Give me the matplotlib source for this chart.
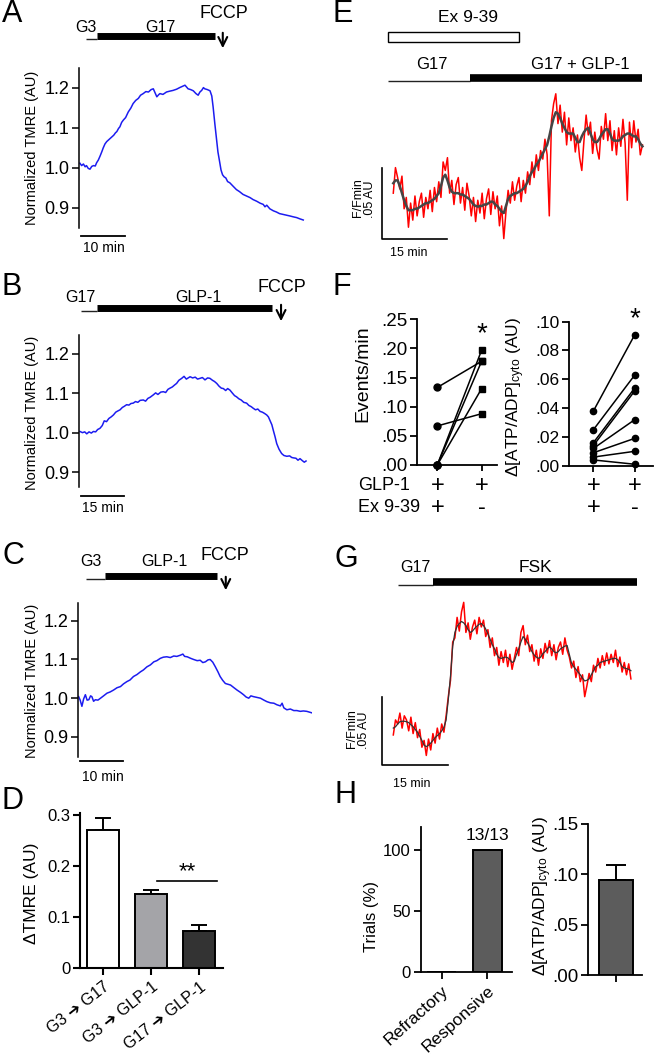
import matplotlib
matplotlib.use("Agg")
import matplotlib.pyplot as plt
import numpy as np
from matplotlib.patches import Rectangle
from matplotlib.transforms import blended_transform_factory

plt.rcParams['font.family'] = ['Liberation Sans', 'DejaVu Sans']
plt.rcParams['mathtext.fontset'] = 'custom'
plt.rcParams['mathtext.rm'] = 'Liberation Sans'
plt.rcParams['mathtext.it'] = 'Liberation Sans:italic'

# ---------------------------------------------------------------- data
# A: G3 -> G17 -> FCCP, normalized TMRE (time in min)
A_T = [0.2, 0.6, 1.0, 1.4, 1.7, 2.1, 2.5, 2.9, 3.3, 3.7, 4.0, 4.4, 4.8, 5.2, 5.5, 5.9,
       6.3, 6.8, 7.4, 7.9, 8.3, 8.6, 9.0, 9.3, 9.7, 10.1, 10.6, 11.2, 11.8, 12.3, 12.9,
       13.5, 14.0, 14.6, 15.2, 15.8, 16.4, 16.9, 17.3, 17.7, 18.1, 18.4, 19.1, 19.9,
       20.6, 21.4, 22.2, 22.9, 23.5, 24.1, 24.5, 24.8, 25.4, 26.0, 26.6, 27.1, 27.5,
       27.9, 28.3, 28.6, 29.2, 29.8, 30.2, 30.5, 30.9, 31.3, 31.6, 31.9, 32.3, 32.65,
       33.0, 33.4, 33.8, 34.3, 35.0, 35.8, 36.5, 37.3, 38.1, 38.9, 39.6, 40.4, 41.2,
       41.9, 42.3, 42.7, 43.4, 44.2, 44.9, 45.6, 46.4, 47.2, 48.0, 48.7, 49.5, 50.2, 51.0]
A_V = [1.012, 1.006, 1.010, 1.003, 1.006, 0.999, 0.997, 1.004, 1.006, 1.005, 1.013,
       1.020, 1.030, 1.041, 1.050, 1.060, 1.066, 1.071, 1.077, 1.082, 1.088, 1.091,
       1.099, 1.103, 1.114, 1.120, 1.126, 1.140, 1.150, 1.161, 1.169, 1.174, 1.182,
       1.186, 1.191, 1.190, 1.196, 1.198, 1.188, 1.178, 1.183, 1.186, 1.184, 1.190,
       1.192, 1.194, 1.197, 1.201, 1.204, 1.207, 1.202, 1.198, 1.196, 1.193, 1.186,
       1.182, 1.190, 1.194, 1.201, 1.198, 1.196, 1.193, 1.180, 1.153, 1.110, 1.070,
       1.040, 1.021, 0.995, 0.983, 0.978, 0.975, 0.966, 0.963, 0.955, 0.946, 0.941,
       0.934, 0.930, 0.926, 0.921, 0.917, 0.912, 0.909, 0.903, 0.907, 0.898, 0.893,
       0.890, 0.886, 0.884, 0.882, 0.880, 0.878, 0.876, 0.873, 0.870]
A_BASE, A_DRUG, A_FCCP, A_SCALE = (1.6, 4.1), (4.1, 30.9), 32.7, (0.45, 10)

# B: G17 -> GLP-1 -> FCCP
B_T = [0.35, 1.2, 2.0, 2.7, 3.5, 4.3, 5.0, 5.8, 6.5, 7.3, 8.1, 8.8, 9.6, 10.4, 11.2,
       12.0, 12.8, 13.5, 14.3, 15.1, 15.8, 16.6, 17.4, 18.1, 18.9, 19.7, 20.5, 21.3,
       22.4, 23.2, 24.0, 24.8, 25.9, 26.7, 27.5, 28.5, 29.4, 30.2, 31.0, 31.7, 32.5,
       33.3, 34.0, 34.8, 35.8, 36.6, 37.4, 38.7, 39.6, 40.5, 41.3, 42.2, 43.0, 43.9,
       44.8, 45.6, 46.5, 47.2, 48.0, 48.8, 49.6, 50.3, 51.1, 51.8, 52.6, 53.5, 54.2,
       54.9, 55.7, 56.5, 57.4, 58.4, 59.2, 60.0, 60.7, 61.5, 62.3, 63.1, 63.9, 64.6,
       65.4, 66.0, 66.6, 67.2, 67.7, 68.3, 68.9, 69.7, 70.6, 71.4, 72.4, 73.4, 74.1,
       74.7, 75.6, 76.3, 77.0, 77.8, 78.5, 79.1]
B_V = [1.003, 1.000, 1.002, 0.997, 1.002, 0.999, 1.003, 1.002, 1.008, 1.011, 1.018,
       1.030, 1.028, 1.036, 1.040, 1.045, 1.052, 1.055, 1.058, 1.064, 1.067, 1.071,
       1.070, 1.074, 1.075, 1.079, 1.077, 1.082, 1.083, 1.080, 1.087, 1.090, 1.096,
       1.101, 1.097, 1.103, 1.104, 1.102, 1.110, 1.113, 1.116, 1.121, 1.125, 1.133,
       1.138, 1.143, 1.136, 1.142, 1.139, 1.141, 1.136, 1.138, 1.140, 1.134, 1.139,
       1.138, 1.133, 1.130, 1.125, 1.118, 1.113, 1.112, 1.107, 1.112, 1.108, 1.100,
       1.094, 1.091, 1.086, 1.083, 1.077, 1.075, 1.069, 1.066, 1.062, 1.058, 1.060,
       1.054, 1.052, 1.049, 1.045, 1.040, 1.030, 1.020, 1.006, 0.990, 0.972, 0.958,
       0.947, 0.942, 0.940, 0.941, 0.937, 0.936, 0.935, 0.930, 0.934, 0.929, 0.925, 0.928]
B_BASE, B_DRUG, B_FCCP, B_SCALE = (0.7, 6.3), (6.3, 67.2), 70.4, (0.7, 15)

# C: G3 -> GLP-1 -> FCCP
C_T = [0.15, 0.5, 0.9, 1.3, 1.7, 2.1, 2.5, 2.9, 3.2, 3.6, 4.0, 4.6, 5.2, 5.9, 6.7, 7.4,
       8.2, 9.0, 9.8, 10.5, 11.3, 12.0, 12.8, 13.6, 14.4, 15.1, 15.9, 16.7, 17.5, 18.2,
       19.0, 19.7, 20.5, 21.3, 22.1, 22.8, 23.6, 24.2, 24.6, 25.2, 26.0, 26.7, 27.5,
       28.2, 28.8, 29.4, 30.0, 30.5, 31.1, 31.7, 32.3, 32.8, 33.4, 34.0, 34.6, 35.2,
       36.0, 36.7, 37.5, 38.2, 38.8, 39.4, 39.9, 40.5, 41.3, 42.1, 42.9, 43.6, 44.4,
       45.2, 45.9, 46.7, 47.1, 47.5, 48.2, 49.0, 49.8, 50.5, 51.3, 52.0, 52.8, 53.4, 54.0]
C_V = [1.004, 0.995, 0.979, 0.998, 1.009, 0.995, 0.996, 1.006, 1.004, 0.992, 0.996,
       0.995, 1.000, 1.006, 1.013, 1.016, 1.021, 1.027, 1.030, 1.037, 1.043, 1.047,
       1.056, 1.061, 1.068, 1.073, 1.081, 1.086, 1.094, 1.097, 1.103, 1.106, 1.107,
       1.105, 1.109, 1.108, 1.111, 1.114, 1.108, 1.107, 1.103, 1.100, 1.097, 1.098,
       1.092, 1.094, 1.099, 1.100, 1.093, 1.081, 1.068, 1.056, 1.046, 1.038, 1.036,
       1.034, 1.027, 1.021, 1.015, 1.009, 1.003, 1.000, 1.006, 1.004, 1.002, 1.000,
       0.995, 0.991, 0.988, 0.987, 0.983, 0.980, 0.987, 0.975, 0.970, 0.972, 0.968,
       0.968, 0.966, 0.967, 0.966, 0.964, 0.962]
C_BASE, C_DRUG, C_FCCP, C_SCALE = (1.85, 6.2), (6.2, 32.0), 34.1, (0.46, 10)

TMRE_TICKS = [0.9, 1.0, 1.1, 1.2]

# D: delta TMRE
D_LABELS = ['G3 ➔ G17', 'G3 ➔ GLP-1', 'G17 ➔ GLP-1']
D_MEAN = [0.270, 0.144, 0.073]
D_SEM = [0.023, 0.008, 0.011]
D_COLORS = ['white', '#a4a4a8', '#333333']

# E: PercevalHR trace (F/Fmin, in units of 0.001 AU), sampled every 0.5 min
E_DT = 0.5
E_RED = [33, 51, 44, 36, 45, 22, 30, 9, 26, 14,
         31, 17, 27, 33, 16, 30, 22, 35, 20, 37,
         27, 41, 30, 55, 49, 58, 33, 42, 25, 39,
         44, 26, 37, 21, 40, 31, 17, 30, 13, 28,
         19, 33, 15, 29, 36, 18, 34, 22, 31, 10,
         24, 1, 20, 35, 26, 41, 28, 38, 44, 27,
         42, 33, 48, 39, 55, 44, 60, 49, 63, 57,
         71, 60, 17, 84, 96, 103, 82, 95, 76, 90,
         67, 86, 70, 79, 62, 74, 58, 49, 70, 88,
         74, 83, 61, 76, 64, 57, 80, 71, 89, 70,
         84, 63, 77, 60, 79, 66, 85, 68, 28, 83,
         65, 84, 69, 78, 60, 67]
E_SMOOTH = [40, 42, 42, 38, 33, 28, 24, 21, 21, 21,
            22, 22, 23, 24, 25, 26, 26, 27, 28, 29,
            31, 33, 38, 44, 46, 42, 37, 34, 33, 33,
            33, 32, 32, 31, 30, 29, 27, 25, 24, 23.5,
            24, 24, 25, 25, 26, 27, 27, 25, 24, 22,
            20, 19, 24, 29, 31, 32, 33, 33, 34, 35,
            36, 38, 41, 45, 48, 50, 53, 55, 58, 61,
            64, 67, 73, 80, 86, 90, 89, 86, 82, 79,
            76, 75, 75, 75, 72, 69, 69, 73, 76, 78,
            79, 75, 71, 69, 69, 71, 74, 76, 78, 78,
            75, 71, 70, 70, 70, 71, 73, 74, 75, 75,
            74, 73, 73, 71, 68, 66]
E_EX939 = (-1.2, 29.0)
E_G17 = (-1.2, 17.7)
E_GLP1 = (17.7, 57.4)
E_SCALE = (-2.6, 1, 15, 50)   # t0, y0, minutes, mAU

# F: paired data
F_EV_BEFORE = [0.133, 0.067, 0.0, 0.0, 0.0]
F_EV_AFTER = [0.178, 0.088, 0.197, 0.178, 0.131]
F_ATP_BEFORE = [0.038, 0.025, 0.016, 0.014, 0.012, 0.009, 0.006, 0.004]
F_ATP_AFTER = [0.091, 0.063, 0.054, 0.052, 0.032, 0.019, 0.010, 0.001]
F_GLP1 = ['+', '+']
F_EX939 = ['+', '-']

# G: forskolin trace (0.001 AU), every 0.5 min
G_DT = 0.5
G_RED = [22, 33, 30, 38, 27, 36, 33, 25, 35, 23,
         31, 20, 26, 13, 18, 7, 19, 11, 23, 16,
         27, 19, 30, 24, 36, 50, 62, 90, 93, 108,
         98, 112, 119, 97, 104, 92, 101, 106, 96, 108,
         101, 106, 94, 99, 86, 93, 80, 86, 73, 83,
         75, 84, 72, 81, 70, 78, 86, 80, 97, 102,
         88, 95, 83, 88, 76, 84, 73, 85, 78, 89,
         82, 91, 80, 88, 77, 86, 90, 81, 93, 84,
         79, 71, 76, 64, 72, 61, 66, 50, 58, 67,
         61, 73, 68, 78, 71, 80, 73, 82, 74, 81,
         75, 84, 72, 79, 68, 75, 66, 74, 63]
G_SMOOTH = [27, 28, 30, 31.7, 32, 32, 31.7, 31, 29.5, 28,
            26, 24, 21, 18, 14.5, 13.4, 14.5, 16, 18, 20,
            21.5, 23, 25, 27.5, 33, 48, 65, 87, 97, 101.5,
            103.5, 105, 104, 102, 99, 97, 98, 100, 101.5, 103,
            103.5, 102, 99.5, 96, 92, 88, 85, 81, 78.5, 78,
            78.5, 79, 78.5, 77, 75, 76, 81, 85, 90, 94,
            92, 89.5, 86.5, 83, 80.5, 79, 78, 79, 81.5, 83,
            85, 86.5, 85, 83, 82, 83, 85, 86, 87, 87.5,
            81, 74.5, 72, 70, 68, 66, 63.5, 61.5, 62, 63,
            66, 69, 72, 73, 75, 75.5, 76, 76.5, 77, 77.5,
            78, 78, 77, 75, 72, 71, 70.5, 70, 69]
G_G17 = (1.0, 9.1)
G_FSK = (9.1, 55.3)
G_SCALE = (-2.5, 0, 15, 50)

# H
H_LABELS = ['Refractory', 'Responsive']
H_PCT = [0, 100]
H_ATP_MEAN = [0.094]
H_ATP_SEM = [0.015]

BLUE = '#1c1cf0'
ATP_LABEL = 'Δ[ATP/ADP]$_{\\mathrm{cyto}}$ (AU)'

# ---------------------------------------------------------------- layout helpers
W, H = 656, 1057
fig = plt.figure(figsize=(W / 100, H / 100), dpi=100)


def px_axes(x0, y0, x1, y1):
    return fig.add_axes([x0 / W, 1 - y1 / H, (x1 - x0) / W, (y1 - y0) / H])


def fy(py):
    return 1 - py / H


def label(px, py, s, **kw):
    kw.setdefault('ha', 'center')
    kw.setdefault('va', 'center')
    fig.text(px / W, fy(py), s, **kw)


def style_axes(ax, lw=1.3, size=12):
    for s in ('top', 'right'):
        ax.spines[s].set_visible(False)
    for s in ('left', 'bottom'):
        ax.spines[s].set_linewidth(lw)
    ax.tick_params(direction='out', length=5, width=lw, labelsize=size, pad=2)


def protocol(ax, base, drug, py_thin, py_thick, thick=5.0):
    tr = blended_transform_factory(ax.transData, fig.transFigure)
    ax.plot(base, [fy(py_thin)] * 2, transform=tr, color='#222222', lw=1.0,
            clip_on=False, solid_capstyle='butt')
    ax.plot(drug, [fy(py_thick)] * 2, transform=tr, color='k', lw=thick,
            clip_on=False, solid_capstyle='butt')
    return tr


def fccp_arrow(ax, tr, t, py0, py1):
    ax.annotate('', xy=(t, fy(py1)), xycoords=tr, xytext=(t, fy(py0)), textcoords=tr,
                arrowprops=dict(arrowstyle='->', lw=1.5, color='k', mutation_scale=16))


def tmre_panel(box, t, v, xmax, ylim, scale, scale_py):
    ax = px_axes(*box)
    ax.plot(t, v, color=BLUE, lw=1.1)
    ax.set_xlim(0, xmax)
    ax.set_ylim(*ylim)
    style_axes(ax, lw=1.1, size=13)
    ax.spines['bottom'].set_visible(False)
    ax.set_xticks([])
    ax.set_yticks(TMRE_TICKS)
    ax.set_yticklabels([f'{x:.1f}' for x in TMRE_TICKS])
    tr = blended_transform_factory(ax.transData, fig.transFigure)
    ax.plot([scale[0], scale[0] + scale[1]], [fy(scale_py)] * 2, transform=tr,
            color='k', lw=1.3, clip_on=False)
    return ax


# ---------------------------------------------------------------- A
axA = tmre_panel((79, 68, 305, 228), A_T, A_V, 51.4, (0.85, 1.25), A_SCALE, 236)
trA = protocol(axA, A_BASE, A_DRUG, 39, 35.8)
fccp_arrow(axA, trA, A_FCCP, 30, 51)
label(86, 28, 'G3', fontsize=11.5)
label(160, 28, 'G17', fontsize=11.5)
label(224, 14, 'FCCP', fontsize=13)
label(103.5, 248, '10 min', fontsize=10)
label(31.7, 148, 'Normalized TMRE (AU)', fontsize=10.5, rotation=90)

# ---------------------------------------------------------------- B
axB = tmre_panel((79, 335, 308.6, 487), B_T, B_V, 80, (0.862, 1.248), B_SCALE, 496)
trB = protocol(axB, B_BASE, B_DRUG, 311, 307.5)
fccp_arrow(axB, trB, B_FCCP, 302, 324)
label(80, 297, 'G17', fontsize=11.5)
label(198, 297, 'GLP-1', fontsize=11.5)
label(282, 287, 'FCCP', fontsize=13)
label(103, 508, '15 min', fontsize=10)
label(31.7, 413, 'Normalized TMRE (AU)', fontsize=10.5, rotation=90)

# ---------------------------------------------------------------- C
axC = tmre_panel((78, 603, 312, 757), C_T, C_V, 54.0, (0.848, 1.246), C_SCALE, 761)
trC = protocol(axC, C_BASE, C_DRUG, 579, 575.5)
fccp_arrow(axC, trC, C_FCCP, 574, 593)
label(91, 562, 'G3', fontsize=11.5)
label(164, 562, 'GLP-1', fontsize=11.5)
label(225, 555, 'FCCP', fontsize=13)
label(102.5, 777, '10 min', fontsize=10)
label(31.7, 681, 'Normalized TMRE (AU)', fontsize=10.5, rotation=90)

# ---------------------------------------------------------------- D
axD = px_axes(80, 813, 222.7, 968.3)
xD = np.arange(len(D_MEAN))
axD.errorbar(xD, D_MEAN, yerr=[np.zeros(len(D_SEM)), D_SEM], fmt='none', ecolor='k',
             elinewidth=1.4, capsize=6, capthick=1.4, zorder=1)
axD.bar(xD, D_MEAN, width=0.667, color=D_COLORS, edgecolor='k', linewidth=1.4, zorder=2)
axD.set_xlim(-0.479, 2.49)
axD.set_ylim(0, 0.303)
style_axes(axD, lw=1.5, size=12)
axD.set_yticks([0, 0.1, 0.2, 0.3])
axD.set_yticklabels(['0', '0.1', '0.2', '0.3'])
axD.set_xticks(xD)
axD.set_xticklabels(D_LABELS, rotation=38, ha='right', rotation_mode='anchor', fontsize=11.5)
axD.tick_params(axis='x', pad=3)
axD.plot([1.125, 2.375], [0.171, 0.171], color='k', lw=1.2)
axD.text(1.75, 0.168, '**', ha='center', va='bottom', fontsize=16)
label(31.7, 893, 'ΔTMRE (AU)', fontsize=12.5, rotation=90)

# ---------------------------------------------------------------- E
axE = px_axes(375, 60, 650, 250)
axE.axis('off')
axE.set_xlim(-4.22, 59.24)
axE.set_ylim(-7.04, 126.8)
tE = np.arange(len(E_RED)) * E_DT
axE.plot(tE, E_RED, color='#ff0000', lw=1.1)
axE.plot(tE, E_SMOOTH, color='#454545', lw=1.8)
sx, sy, sdt, sdy = E_SCALE
axE.plot([sx, sx, sx + sdt], [sy + sdy, sy, sy], color='k', lw=1.2, clip_on=False)
trE = protocol(axE, E_G17, E_GLP1, 81, 77.5, thick=5.5)
axE.add_patch(Rectangle((E_EX939[0], fy(42)), E_EX939[1] - E_EX939[0], 10 / H,
                        transform=trE, facecolor='white', edgecolor='k', lw=1.0,
                        clip_on=False))
label(468, 18, 'Ex 9-39', fontsize=12.5)
label(432, 64, 'G17', fontsize=12)
label(580, 64, 'G17 + GLP-1', fontsize=12)
label(357.5, 198, 'F/Fmin', fontsize=9, rotation=90)
label(370, 199, '.05 AU', fontsize=9, rotation=90)
label(409, 253, '15 min', fontsize=9)

# ---------------------------------------------------------------- F
axF1 = px_axes(417.3, 319.3, 496.7, 465)
for b, a in zip(F_EV_BEFORE, F_EV_AFTER):
    axF1.plot([0, 1], [b, a], color='k', lw=1.1)
axF1.plot(np.zeros(len(F_EV_BEFORE)), F_EV_BEFORE, 'o', ms=5, color='k', clip_on=False)
axF1.plot(np.ones(len(F_EV_AFTER)), F_EV_AFTER, 's', ms=5, color='k', clip_on=False)
axF1.set_xlim(-0.45, 1.34)
axF1.set_ylim(0, 0.25)
style_axes(axF1, lw=1.3, size=13.5)
axF1.set_yticks([0, 0.05, 0.10, 0.15, 0.20, 0.25])
axF1.set_yticklabels(['.00', '.05', '.10', '.15', '.20', '.25'])
axF1.set_xticks([0, 1])
axF1.set_xticklabels([])
axF1.tick_params(axis='x', length=4)
axF1.text(1, 0.202, '*', ha='center', va='bottom', fontsize=20)
label(363, 374, 'Events/min', fontsize=14, rotation=90)

axF2 = px_axes(569, 321.7, 653, 465.7)
for b, a in zip(F_ATP_BEFORE, F_ATP_AFTER):
    axF2.plot([0, 1], [b, a], color='k', lw=1.1)
axF2.plot(np.zeros(len(F_ATP_BEFORE)), F_ATP_BEFORE, 'o', ms=4.5, color='k', clip_on=False)
axF2.plot(np.ones(len(F_ATP_AFTER)), F_ATP_AFTER, 'o', ms=4.5, color='k', clip_on=False)
axF2.set_xlim(-0.59, 1.44)
axF2.set_ylim(0, 0.10)
style_axes(axF2, lw=1.3, size=12.5)
axF2.set_yticks([0, 0.02, 0.04, 0.06, 0.08, 0.10])
axF2.set_yticklabels(['.00', '.02', '.04', '.06', '.08', '.10'])
axF2.set_xticks([0, 1])
axF2.set_xticklabels([])
axF2.tick_params(axis='x', length=4)
axF2.text(1, 0.093, '*', ha='center', va='bottom', fontsize=20)
label(516, 397, ATP_LABEL, fontsize=12.5, rotation=90)

for ax in (axF1, axF2):
    trF = blended_transform_factory(ax.transData, fig.transFigure)
    for i, s in enumerate(F_GLP1):
        ax.text(i, fy(486), s, transform=trF, ha='center', va='center', fontsize=17)
    for i, s in enumerate(F_EX939):
        ax.text(i, fy(508), s, transform=trF, ha='center', va='center', fontsize=17)
label(358, 486, 'GLP-1', fontsize=13, ha='left')
label(358, 508, 'Ex 9-39', fontsize=13, ha='left')

# ---------------------------------------------------------------- G
axG = px_axes(375, 585, 650, 780)
axG.axis('off')
axG.set_xlim(-4.16, 58.34)
axG.set_ylim(-10.97, 131.7)
tG = np.arange(len(G_RED)) * G_DT
axG.plot(tG, G_RED, color='#ff0000', lw=1.1)
axG.plot(tG, G_SMOOTH, color='#333333', lw=0.9)
sx, sy, sdt, sdy = G_SCALE
axG.plot([sx, sx, sx + sdt], [sy + sdy, sy, sy], color='k', lw=1.2, clip_on=False)
protocol(axG, G_G17, G_FSK, 585, 582, thick=5.5)
label(415, 568, 'G17', fontsize=11.5)
label(535, 568, 'FSK', fontsize=12.5)
label(352, 729, 'F/Fmin', fontsize=9, rotation=90)
label(364, 730, '.05 AU', fontsize=9, rotation=90)
label(412, 784, '15 min', fontsize=9)

# ---------------------------------------------------------------- H
axH1 = px_axes(420.7, 826.7, 511.7, 972)
xH = np.arange(len(H_PCT))
axH1.bar(xH, H_PCT, width=0.64, color='#5c5c5c', edgecolor='k', linewidth=1.4)
axH1.set_xlim(-0.46, 1.54)
axH1.set_ylim(0, 119)
style_axes(axH1, lw=1.3, size=12)
axH1.set_yticks([0, 50, 100])
axH1.set_xticks(xH)
axH1.set_xticklabels(H_LABELS, rotation=42, ha='right', rotation_mode='anchor', fontsize=12.5)
axH1.tick_params(axis='x', pad=3)
axH1.text(1, 106, '13/13', ha='center', va='bottom', fontsize=12.5)
label(371.5, 916, 'Trials (%)', fontsize=12, rotation=90)

axH2 = px_axes(588.3, 824, 641.7, 975)
axH2.errorbar([0], H_ATP_MEAN, yerr=[[0], H_ATP_SEM], fmt='none', ecolor='k',
              elinewidth=1.4, capsize=7, capthick=1.4, zorder=1)
axH2.bar([0], H_ATP_MEAN, width=0.6, color='#5c5c5c', edgecolor='k', linewidth=1.4, zorder=2)
axH2.set_xlim(-0.5, 0.46)
axH2.set_ylim(0, 0.15)
style_axes(axH2, lw=1.3, size=13.5)
axH2.set_yticks([0, 0.05, 0.10, 0.15])
axH2.set_yticklabels(['.00', '.05', '.10', '.15'])
axH2.set_xticks([0])
axH2.set_xticklabels([])
label(543, 896, ATP_LABEL, fontsize=12.5, rotation=90)

# ---------------------------------------------------------------- panel letters
for s, px, py in [('A', 2, 14), ('B', 1, 287), ('C', 2, 556), ('D', 2, 801),
                  ('E', 333, 14), ('F', 333, 287), ('G', 335, 559), ('H', 335, 795)]:
    label(px, py, s, fontsize=22, ha='left')

fig.savefig('out.png', dpi=100)
